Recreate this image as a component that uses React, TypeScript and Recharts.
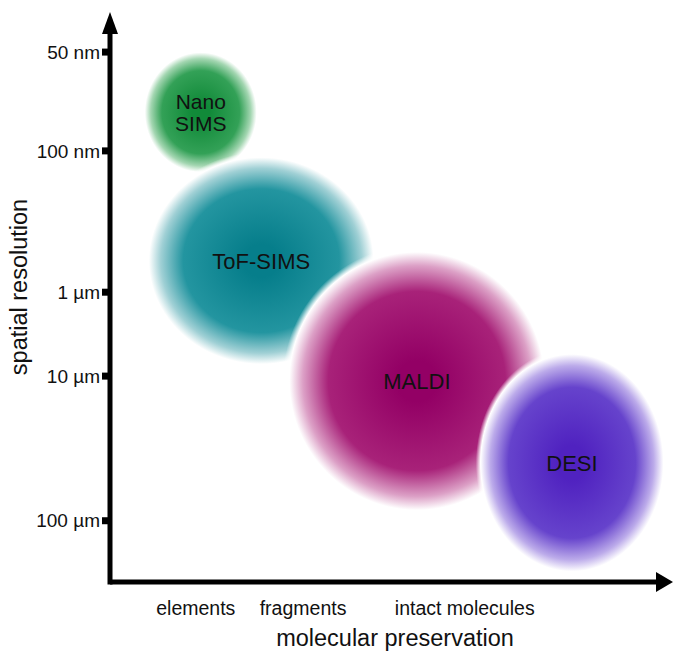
import React from 'react';
import { ScatterChart, Scatter, XAxis, YAxis, Customized } from 'recharts';

// ---- data ----
const methodLines: string[][] = [['Nano', 'SIMS'], ['ToF-SIMS'], ['MALDI'], ['DESI']];
const preservation = [16.5, 27.5, 55.8, 84.0]; // x centre (schematic units)
const resolution = [85.1, 58.2, 36.4, 21.6]; // y centre (schematic units)
const preservationSpread = [10.7, 21.5, 24.4, 17.5]; // x half-extent
const resolutionSpread = [11.4, 19.7, 24.6, 20.7]; // y half-extent
const coreColors = ['#118a39', '#067e8b', '#930065', '#5022c0'];
const midColors = ['#33a157', '#2395a0', '#a82279', '#6643cc'];
const lightColors = ['#a3d6b1', '#a0d0d5', '#dca0c6', '#bcabea'];

const resolutionTicks = [96.0, 78.1, 52.5, 37.3, 11.1];
const resolutionLabels = ['50 nm', '100 nm', '1 µm', '10 µm', '100 µm'];
const preservationTicks = [15.6, 35.1, 64.5];
const preservationLabels = ['elements', 'fragments', 'intact molecules'];

// ---- layout ----
const W = 673;
const H = 652;
const Y_AXIS_W = 110;
const X_AXIS_H = 70;
const MARGIN = { top: 30, right: 13, left: 0, bottom: 0 };
const X_DOMAIN: [number, number] = [0, 100];
const Y_DOMAIN: [number, number] = [0, 100];
const PLOT_LEFT = MARGIN.left + Y_AXIS_W;
const PLOT_W = W - MARGIN.right - PLOT_LEFT;
const PLOT_TOP = MARGIN.top;
const PLOT_H = H - MARGIN.bottom - X_AXIS_H - PLOT_TOP;
const PLOT_BOTTOM = PLOT_TOP + PLOT_H;
const PX_X = PLOT_W / (X_DOMAIN[1] - X_DOMAIN[0]);
const PX_Y = PLOT_H / (Y_DOMAIN[1] - Y_DOMAIN[0]);
const FONT = '"Liberation Sans", Arial, Helvetica, sans-serif';

const data = methodLines.map((lines, i) => ({
  id: i,
  lines,
  x: preservation[i],
  y: resolution[i],
  sx: preservationSpread[i],
  sy: resolutionSpread[i],
}));

const Bubble = (props: any) => {
  const { cx, cy, payload } = props;
  if (cx == null || cy == null || !payload) return null;
  const i = payload.id;
  const rx = payload.sx * PX_X;
  const ry = payload.sy * PX_Y;
  const gid = `bubble-grad-${i}`;
  const n = payload.lines.length;
  return (
    <g>
      <defs>
        <radialGradient id={gid} cx="50%" cy="50%" r="50%">
          <stop offset="0" stopColor={coreColors[i]} />
          <stop offset="0.15" stopColor={coreColors[i]} />
          <stop offset="0.66" stopColor={midColors[i]} />
          <stop offset="0.85" stopColor={lightColors[i]} />
          <stop offset="0.95" stopColor="#ffffff" />
          <stop offset="1" stopColor="#ffffff" stopOpacity={0} />
        </radialGradient>
      </defs>
      <ellipse cx={cx} cy={cy} rx={rx} ry={ry} fill={`url(#${gid})`} />
      {payload.lines.map((l: string, k: number) => (
        <text
          key={k}
          x={cx}
          y={cy + 8 + (k - (n - 1) / 2) * 22}
          textAnchor="middle"
          fontFamily={FONT}
          fontSize={n > 1 ? 21 : 22}
          fill="#111"
        >
          {l}
        </text>
      ))}
    </g>
  );
};

const ArrowHeads = () => {
  const ax = PLOT_LEFT;
  const ay = PLOT_BOTTOM;
  const right = PLOT_LEFT + PLOT_W;
  return (
    <g>
      <polygon points={`${ax},12 ${ax - 8},34 ${ax + 8},34`} fill="#000" />
      <polygon points={`${W},${ay} ${right - 4},${ay - 10} ${right - 4},${ay + 10}`} fill="#000" />
    </g>
  );
};

const yFmt = (v: number) => resolutionLabels[resolutionTicks.indexOf(v)] ?? '';
const xFmt = (v: number) => preservationLabels[preservationTicks.indexOf(v)] ?? '';

export default function App() {
  return (
    <div style={{ position: 'absolute', left: 0, top: 0, width: W, height: H, background: '#fff' }}>
      <ScatterChart width={W} height={H} margin={MARGIN}>
        <XAxis
          type="number"
          dataKey="x"
          domain={X_DOMAIN}
          ticks={preservationTicks}
          interval={0}
          tickFormatter={xFmt}
          height={X_AXIS_H}
          tickLine={false}
          tickSize={0}
          tickMargin={19}
          axisLine={{ stroke: '#000', strokeWidth: 5 }}
          tick={{ fill: '#111', fontSize: 19.5, fontFamily: FONT }}
          label={{
            content: () => (
              <text x={395} y={646} textAnchor="middle" fontFamily={FONT} fontSize={23.5} fill="#111">
                molecular preservation
              </text>
            ),
          }}
        />
        <YAxis
          type="number"
          dataKey="y"
          domain={Y_DOMAIN}
          ticks={resolutionTicks}
          interval={0}
          tickFormatter={yFmt}
          width={Y_AXIS_W}
          tickSize={8}
          tickMargin={2}
          tickLine={{ stroke: '#000', strokeWidth: 7 }}
          axisLine={{ stroke: '#000', strokeWidth: 5, strokeLinecap: 'square' }}
          tick={{ fill: '#111', fontSize: 19, fontFamily: FONT }}
          label={{
            content: () => (
              <text
                x={27}
                y={287}
                transform="rotate(-90, 27, 287)"
                textAnchor="middle"
                fontFamily={FONT}
                fontSize={23.5}
                fill="#111"
              >
                spatial resolution
              </text>
            ),
          }}
        />
        <Scatter data={data} shape={Bubble} isAnimationActive={false} />
        <Customized component={ArrowHeads} />
      </ScatterChart>
    </div>
  );
}
